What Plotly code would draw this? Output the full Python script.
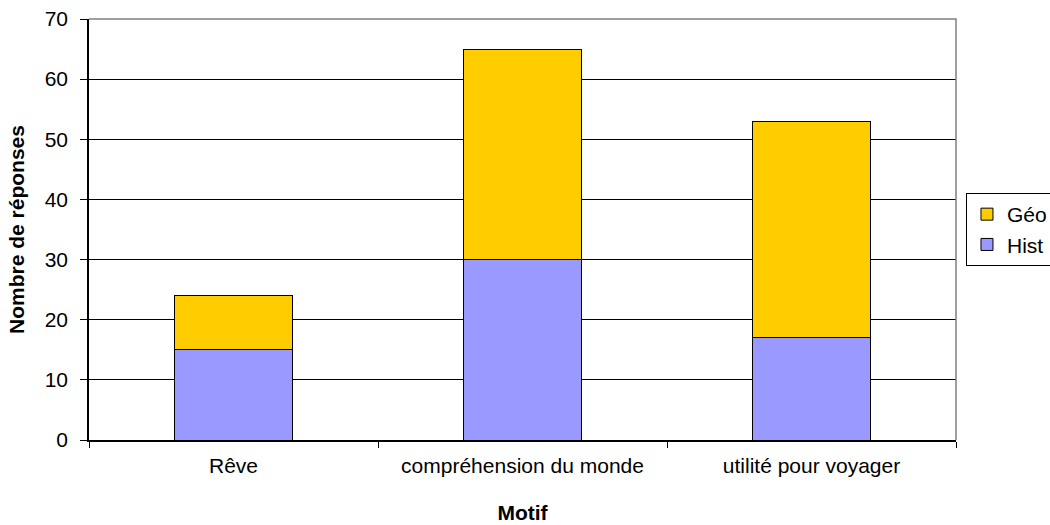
import plotly.graph_objects as go

categories = ["Rêve", "compréhension du monde", "utilité pour voyager"]
hist_values = [15, 30, 17]
geo_values = [9, 35, 36]
y_ticks = [0, 10, 20, 30, 40, 50, 60, 70]

FONT = "Liberation Sans, Arial, sans-serif"
FS = 21

fig = go.Figure()
fig.add_trace(go.Bar(
    x=categories, y=hist_values, name="Hist",
    marker=dict(color="#9999FF", line=dict(color="#000000", width=1)),
    width=0.405,
))
fig.add_trace(go.Bar(
    x=categories, y=geo_values, name="Géo",
    marker=dict(color="#FFCC00", line=dict(color="#000000", width=1)),
    width=0.405,
))

fig.update_layout(
    barmode="stack",
    width=1050, height=525,
    margin=dict(l=89, r=94, t=19, b=85, autoexpand=False),
    paper_bgcolor="white", plot_bgcolor="white",
    font=dict(family=FONT, size=FS, color="#000000"),
    showlegend=True,
    legend=dict(
        traceorder="reversed",
        x=1.0115, xanchor="left", xref="paper",
        y=0.5, yanchor="middle",
        bordercolor="#000000", borderwidth=1,
        font=dict(size=FS),
        bgcolor="white",
        itemwidth=30,
        tracegroupgap=0,
    ),
    shapes=[dict(type="path", xref="paper", yref="paper",
                 path="M 0,1 L 1,1 L 1,0",
                 line=dict(color="#808080", width=1.5), layer="above")],
)

fig.update_xaxes(
    type="category",
    showline=True, linecolor="#000000", linewidth=1.5,
    ticks="outside", tickson="boundaries", ticklen=6, tickcolor="#000000",
    ticklabelstandoff=6,
    showgrid=False,
    title=dict(text="<b>Motif</b>", font=dict(size=FS), standoff=29),
    tickfont=dict(size=FS),
)
fig.update_yaxes(
    range=[0, 70], tickvals=y_ticks,
    showline=True, linecolor="#000000", linewidth=1.5,
    ticks="outside", ticklen=7, tickcolor="#000000",
    ticklabelstandoff=8, ticklabeloverflow="allow",
    showgrid=True, gridcolor="#000000", gridwidth=1,
    zeroline=False,
    title=dict(text="<b>Nombre de réponses</b>", font=dict(size=FS), standoff=14),
    tickfont=dict(size=FS),
)

fig.write_html(
    "out.html",
    config={"displayModeBar": False},
    post_script="document.body.style.margin='0';document.body.style.overflow='hidden';",
)
